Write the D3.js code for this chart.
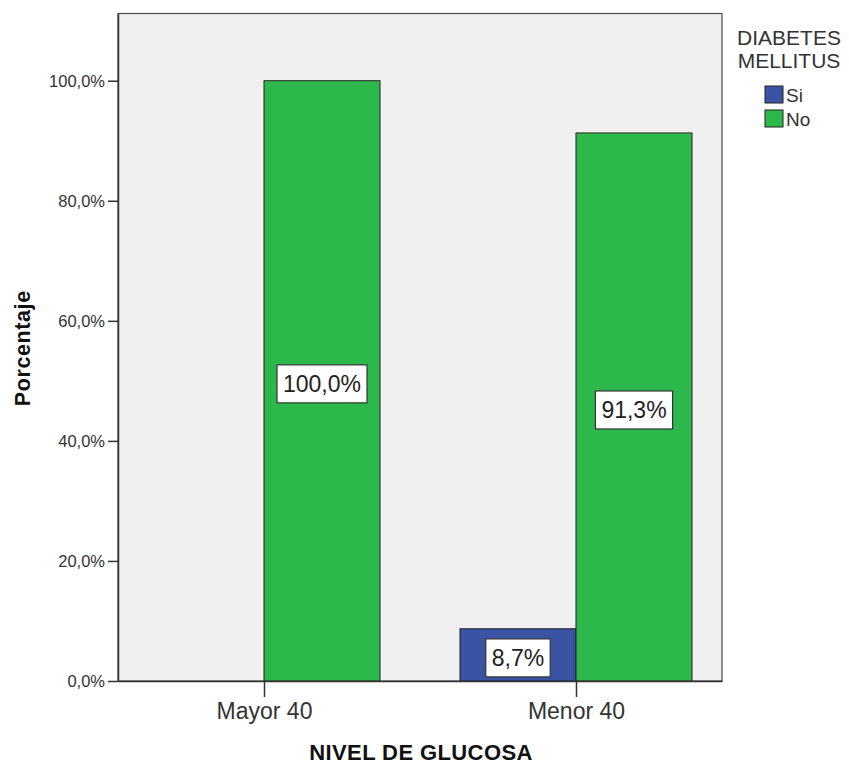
<!DOCTYPE html>
<html>
<head>
<meta charset="utf-8">
<script src="https://cdn.jsdelivr.net/npm/d3@7"></script>
<style>
  body { margin: 0; background: #fff; }
  svg { display: block; font-family: "Liberation Sans", Arial, sans-serif; }
</style>
</head>
<body>
<svg id="chart" width="849" height="765"></svg>
<script>
const categories = ["Mayor 40", "Menor 40"];
const seriesNames = ["Si", "No"];
const siValues = [0, 8.7];
const noValues = [100, 91.3];
const seriesValues = [siValues, noValues];
const yTicks = [0, 20, 40, 60, 80, 100];
const seriesColors = ["#3a53a5", "#2db84b"];
const xTitle = "NIVEL DE GLUCOSA";
const yTitle = "Porcentaje";
const legendTitle = ["DIABETES", "MELLITUS"];

const svg = d3.select("#chart");
const pL = 118, pR = 722, pT = 13.5, pB = 681;

const y = d3.scaleLinear().domain([0, 111.2]).range([pB, pT]);
const x = d3.scalePoint().domain(categories).range([pL, pR]).padding(0.468);
const sub = d3.scaleBand().domain(seriesNames).range([-116, 116]).padding(0);

const fmt = v => d3.format(".1f")(v).replace(".", ",") + "%";

// plot background
svg.append("rect").attr("x", pL).attr("y", pT)
  .attr("width", pR - pL).attr("height", pB - pT)
  .attr("fill", "#f0f0f0").attr("stroke", "#4a4a4a").attr("stroke-width", 1.2);

// bars
const rows = [];
categories.forEach((c, i) => seriesNames.forEach((s, j) => rows.push({c, s, j, v: seriesValues[j][i]})));

const bars = rows.filter(d => d.v > 0);
svg.append("g").selectAll("rect").data(bars).join("rect")
  .attr("x", d => x(d.c) + sub(d.s))
  .attr("y", d => y(d.v))
  .attr("width", sub.bandwidth())
  .attr("height", d => y(0) - y(d.v))
  .attr("fill", d => seriesColors[d.j])
  .attr("stroke", "#222").attr("stroke-width", 1);

// y axis
const yAxis = d3.axisLeft(y).tickValues(yTicks).tickSize(10).tickSizeOuter(0).tickPadding(3).tickFormat(fmt);
const gy = svg.append("g").attr("transform", `translate(${pL},0)`).call(yAxis);
gy.select(".domain").attr("stroke", "#333").attr("stroke-width", 1.5);
gy.selectAll(".tick line").attr("stroke", "#333").attr("stroke-width", 1.5);
gy.selectAll(".tick text").attr("font-size", 16.5).attr("fill", "#333")
  .attr("font-family", "Liberation Sans, Arial, sans-serif");

// x axis
const xAxis = d3.axisBottom(x).tickSize(16).tickSizeOuter(0).tickPadding(6);
const gx = svg.append("g").attr("transform", `translate(0,${pB})`).call(xAxis);
gx.select(".domain").attr("stroke", "#333").attr("stroke-width", 1.5);
gx.selectAll(".tick line").attr("stroke", "#333").attr("stroke-width", 1.5);
gx.selectAll(".tick text").attr("font-size", 23).attr("fill", "#333")
  .attr("font-family", "Liberation Sans, Arial, sans-serif");

// value labels
const labels = svg.append("g");
bars.forEach(d => {
  const cx = x(d.c) + sub(d.s) + sub.bandwidth() / 2;
  const cy = (y(d.v) + y(0)) / 2 + 3;
  const g = labels.append("g");
  const t = g.append("text").attr("x", cx).attr("y", cy)
    .attr("text-anchor", "middle").attr("dominant-baseline", "central")
    .attr("font-size", 23).attr("fill", "#222").text(fmt(d.v));
  const bb = t.node().getBBox();
  g.insert("rect", "text")
    .attr("x", cx - bb.width / 2 - 6).attr("y", cy - 19)
    .attr("width", bb.width + 12).attr("height", 38)
    .attr("fill", "#fff").attr("stroke", "#333").attr("stroke-width", 1.2);
});

// axis titles
svg.append("text").attr("x", (pL + pR) / 2 + 1).attr("y", 760)
  .attr("text-anchor", "middle").attr("font-size", 22).attr("font-weight", "bold")
  .attr("letter-spacing", 0.4).attr("fill", "#111").text(xTitle);
svg.append("text").attr("transform", `translate(30,${(pT + pB) / 2 + 1}) rotate(-90)`)
  .attr("text-anchor", "middle").attr("font-size", 21.5).attr("font-weight", "bold")
  .attr("letter-spacing", 0.6).attr("fill", "#111").text(yTitle);

// legend
const lg = svg.append("g");
legendTitle.forEach((t, i) => {
  lg.append("text").attr("x", 789).attr("y", 45 + i * 23).attr("text-anchor", "middle")
    .attr("font-size", 21).attr("fill", "#333").text(t);
});
seriesNames.forEach((s, i) => {
  lg.append("rect").attr("x", 765).attr("y", 86 + i * 24).attr("width", 18).attr("height", 17)
    .attr("fill", seriesColors[i]).attr("stroke", "#222").attr("stroke-width", 1);
  lg.append("text").attr("x", 786).attr("y", 102 + i * 24)
    .attr("font-size", 19).attr("fill", "#333").text(s);
});
</script>
</body>
</html>
